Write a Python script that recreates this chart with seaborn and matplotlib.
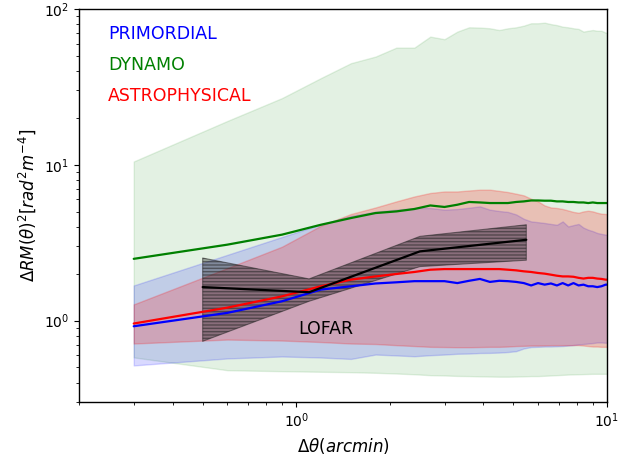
import numpy as np
import pandas as pd
import matplotlib
matplotlib.use("Agg")
import matplotlib.pyplot as plt
import seaborn as sns

# angular separation (arcmin)
theta = [0.3, 0.6, 0.9, 1.2, 1.5, 1.8, 2.1, 2.4, 2.7, 3.0, 3.3, 3.6, 3.9, 4.2,
         4.5, 4.8, 5.1, 5.4, 5.7, 6.0, 6.3, 6.6, 6.9, 7.2, 7.5, 7.8, 8.1, 8.4,
         8.7, 9.0, 9.3, 9.6, 9.9, 10.2]

primordial = [0.919, 1.12, 1.33, 1.58, 1.66, 1.73, 1.76, 1.79, 1.79, 1.79, 1.74, 1.80,
              1.85, 1.77, 1.80, 1.79, 1.77, 1.74, 1.68, 1.74, 1.70, 1.73, 1.68, 1.74,
              1.68, 1.74, 1.68, 1.70, 1.66, 1.66, 1.64, 1.66, 1.70, 1.70]
primordial_lo = [0.515, 0.571, 0.588, 0.579, 0.567, 0.605, 0.597, 0.590, 0.599, 0.605,
                 0.612, 0.614, 0.619, 0.620, 0.623, 0.628, 0.636, 0.662, 0.676, 0.678,
                 0.681, 0.681, 0.684, 0.686, 0.691, 0.696, 0.702, 0.707, 0.712, 0.717,
                 0.723, 0.723, 0.720, 0.720]
primordial_hi = [1.68, 2.64, 3.44, 4.14, 4.70, 5.00, 5.15, 5.28, 5.28, 5.15, 5.20, 5.30,
                 5.41, 5.15, 5.05, 4.98, 4.80, 4.50, 4.33, 4.28, 4.23, 4.17, 4.12, 4.33,
                 4.02, 4.10, 4.17, 3.95, 3.83, 3.75, 3.65, 3.60, 3.56, 3.56]

dynamo = [2.49, 3.07, 3.56, 4.12, 4.55, 4.90, 5.02, 5.20, 5.48, 5.36, 5.54, 5.77,
          5.73, 5.68, 5.68, 5.68, 5.77, 5.82, 5.90, 5.90, 5.88, 5.88, 5.82, 5.82,
          5.77, 5.77, 5.73, 5.73, 5.68, 5.73, 5.68, 5.68, 5.68, 5.68]
dynamo_lo = [0.580, 0.480, 0.473, 0.469, 0.466, 0.462, 0.457, 0.452, 0.446, 0.444,
             0.441, 0.440, 0.438, 0.437, 0.436, 0.436, 0.437, 0.438, 0.440, 0.440,
             0.442, 0.444, 0.446, 0.448, 0.450, 0.451, 0.452, 0.453, 0.454, 0.455,
             0.455, 0.455, 0.455, 0.455]
dynamo_hi = [10.5, 19.1, 26.8, 36.0, 44.9, 49.5, 56.5, 56.5, 66.5, 64.0, 71.6, 76.3,
             76.0, 75.2, 73.3, 75.2, 76.3, 78.2, 81.0, 81.0, 81.7, 80.0, 78.8, 77.0,
             76.3, 75.2, 74.5, 71.6, 72.5, 73.3, 72.5, 72.5, 70.5, 70.5]

astro = [0.957, 1.21, 1.43, 1.66, 1.83, 1.92, 1.99, 2.05, 2.12, 2.14, 2.14, 2.14,
         2.14, 2.14, 2.14, 2.12, 2.10, 2.07, 2.05, 2.02, 2.00, 1.97, 1.94, 1.92,
         1.92, 1.91, 1.88, 1.86, 1.88, 1.88, 1.86, 1.85, 1.83, 1.83]
astro_lo = [0.712, 0.755, 0.744, 0.728, 0.712, 0.707, 0.695, 0.686, 0.678, 0.676,
            0.674, 0.674, 0.676, 0.678, 0.678, 0.681, 0.686, 0.688, 0.691, 0.691,
            0.693, 0.695, 0.695, 0.695, 0.695, 0.696, 0.696, 0.691, 0.686, 0.681,
            0.681, 0.678, 0.678, 0.678]
astro_hi = [1.27, 2.17, 2.98, 4.06, 4.83, 5.32, 5.82, 6.26, 6.59, 6.74, 6.74, 6.84,
            6.92, 6.92, 6.80, 6.68, 6.52, 6.36, 6.05, 5.82, 5.48, 5.32, 5.28, 5.20,
            5.09, 4.98, 4.92, 5.02, 5.07, 5.02, 4.92, 4.85, 4.83, 4.83]

lofar_theta = [0.5, 1.1, 2.5, 5.5]
lofar = [1.64, 1.52, 2.78, 3.30]
lofar_lo = [0.736, 1.33, 2.22, 2.44]
lofar_hi = [2.52, 1.85, 3.47, 4.12]

labels = ["PRIMORDIAL", "DYNAMO", "ASTROPHYSICAL"]
colors = {"PRIMORDIAL": "blue", "DYNAMO": "green", "ASTROPHYSICAL": "red"}

sns.set_style("ticks", rc={"axes.edgecolor": "black", "text.color": "black",
                           "axes.labelcolor": "black", "xtick.color": "black",
                           "ytick.color": "black"})
plt.rcParams["font.family"] = ["DejaVu Sans"]
plt.rcParams["mathtext.fontset"] = "dejavusans"

fig = plt.figure(figsize=(6.34, 4.62), dpi=100)
ax = fig.add_axes([79 / 634, 1 - 402 / 462, 528 / 634, 393 / 462])

# bands
ax.fill_between(theta, dynamo_lo, dynamo_hi, color="green", alpha=0.11, lw=1)
ax.fill_between(theta, primordial_lo, primordial_hi, color="blue", alpha=0.15, lw=1)
ax.fill_between(theta, astro_lo, astro_hi, color="red", alpha=0.2, lw=1)

plt.rcParams["hatch.linewidth"] = 1.0
ax.fill_between(lofar_theta, lofar_lo, lofar_hi, facecolor=(0, 0, 0, 0.33),
                edgecolor=(0.15, 0.15, 0.15, 0.55), hatch="-----", lw=0.8)

df = pd.DataFrame({
    "theta": theta * 3,
    "value": primordial + dynamo + astro,
    "model": ["PRIMORDIAL"] * len(theta) + ["DYNAMO"] * len(theta) + ["ASTROPHYSICAL"] * len(theta),
})
sns.lineplot(data=df, x="theta", y="value", hue="model", palette=colors,
             legend=False, lw=1.6, ax=ax, estimator=None, sort=False)
sns.lineplot(x=lofar_theta, y=lofar, color="black", lw=1.6, ax=ax, estimator=None)

ax.set_xscale("log")
ax.set_yscale("log")
ax.set_xlim(0.2, 10)
ax.set_ylim(0.3, 100)

for spine in ax.spines.values():
    spine.set_visible(True)
    spine.set_linewidth(1.0)

ax.tick_params(labelsize=10)
ax.set_xlabel(r"$\Delta\theta(arcmin)$", fontsize=12)
ax.set_ylabel(r"$\Delta RM(\theta)^2[rad^2m^{-4}]$", fontsize=12)

ypos = [0.923, 0.845, 0.767]
for lab, yp in zip(labels, ypos):
    ax.text(0.055, yp, lab, color=colors[lab], fontsize=12.5,
            transform=ax.transAxes, ha="left", va="baseline")
ax.text(1.015, 0.815, "LOFAR", color="black", fontsize=12.5, ha="left", va="baseline")

fig.savefig("out.png", dpi=100)
